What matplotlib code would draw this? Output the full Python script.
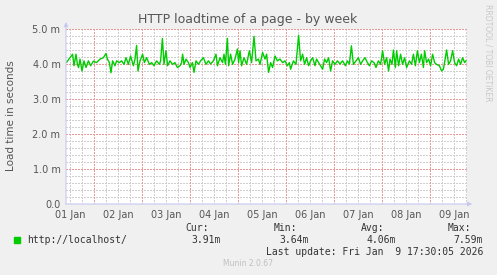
import matplotlib
matplotlib.use("Agg")
import matplotlib.pyplot as plt

# hours since 01 Jan 00:00, load time in milliseconds
hours = [
    10.3, 13.3, 14.0, 15.0, 15.7, 16.3, 17.0, 18.0, 19.0, 20.0, 21.2, 22.3, 23.7,
    25.3, 27.0, 28.7, 30.0, 30.7, 31.7, 32.5, 33.3, 34.5, 35.3, 36.7, 37.8, 39.0,
    40.0, 41.2, 42.3, 43.7, 44.5, 45.3, 46.0, 47.0, 48.3, 49.2, 50.3, 51.7, 52.8,
    54.0, 55.3, 56.7, 57.3, 58.2, 59.0, 60.0, 60.8, 62.0, 63.3, 64.5, 65.7, 67.0,
    67.8, 68.3, 69.0, 70.0, 71.2, 72.0, 73.2, 74.0, 75.0, 76.2, 77.3, 78.7, 80.0,
    81.2, 82.3, 83.7, 85.0, 85.7, 87.0, 88.3, 89.0, 89.7, 90.7, 91.3, 92.3, 93.3,
    94.5, 95.7, 96.3, 97.0, 97.8, 99.0, 100.3, 101.7,
    102.8, 104.0, 105.0, 106.2, 107.0, 108.3, 109.5, 110.3, 111.3, 112.3, 113.3,
    114.5, 115.7, 117.0, 118.3, 119.5, 120.7, 121.7, 122.3, 123.7, 125.0, 126.3,
    127.3, 128.3, 129.3, 130.3, 131.3, 132.3, 133.3, 134.5, 135.3, 136.3, 137.3,
    138.3, 139.3, 140.3, 141.3, 142.3, 143.3, 144.5, 145.7, 147.0, 148.3, 149.7,
    150.7, 151.7, 152.7, 153.7, 155.0, 156.2, 157.3, 158.3, 159.5, 160.7, 161.7,
    162.8, 164.0, 165.0, 166.2, 167.3, 168.3, 169.3, 170.3, 171.3, 172.0, 173.0,
    173.7, 174.7, 175.3, 176.3, 177.3, 178.3, 179.3, 180.3, 181.7, 182.8, 183.7,
    184.7, 185.7, 186.7, 187.7, 188.7, 189.3, 190.3, 191.3, 192.3, 193.3, 194.3,
    195.3, 196.7, 197.8, 198.7, 199.7, 200.3, 201.3, 202.3, 203.3, 204.3, 205.3,
    206.3, 207.3, 208.3, 209.3, 210.0,
]
loadtime = [
    4.05, 4.28, 3.95, 4.28, 3.99, 3.90, 4.14, 3.80, 4.09, 3.90, 4.09, 3.95, 4.08,
    4.04, 4.14, 4.18, 4.30, 4.14, 4.04, 3.75, 4.09, 3.95, 4.09, 4.04, 4.09, 3.99,
    4.18, 3.99, 4.23, 3.95, 4.14, 4.53, 3.80, 4.09, 4.28, 4.04, 4.18, 3.99, 4.04,
    3.95, 4.09, 3.99, 4.09, 4.73, 3.99, 4.38, 3.95, 4.09, 3.99, 4.04, 3.90, 3.95,
    4.04, 4.28, 3.99, 4.14, 4.04, 3.90, 4.04, 3.76, 4.09, 3.99, 4.09, 4.18, 3.99,
    4.09, 4.00, 4.09, 4.28, 3.95, 4.18, 4.04, 4.28, 3.99, 4.73, 3.95, 4.28, 3.99,
    4.14, 4.43, 4.04, 4.38, 3.95, 4.18, 3.99, 4.38,
    4.04, 4.79, 4.09, 4.14, 3.99, 4.33, 4.14, 4.28, 3.76, 4.04, 3.90, 4.23, 4.09,
    4.14, 4.04, 4.09, 3.95, 4.04, 3.85, 4.09, 3.99, 4.82, 4.09, 4.28, 3.99, 4.18,
    3.95, 4.09, 4.18, 3.95, 4.14, 4.04, 3.95, 3.85, 4.14, 4.04, 4.18, 3.80, 4.09,
    3.99, 4.09, 4.00, 4.09, 3.95, 4.09, 4.00, 4.52, 3.99, 4.09, 4.18, 3.99, 4.09,
    4.18, 4.04, 3.95, 4.09, 4.04, 3.90, 4.09, 3.99, 4.38, 3.99, 4.18, 3.80, 4.14,
    3.99, 4.40, 3.90, 4.38, 3.95, 4.28, 3.99, 4.18, 3.90, 4.09, 3.99, 4.28, 3.95,
    4.38, 4.04, 4.28, 3.90, 4.38, 4.04, 4.14, 3.95, 4.28, 4.04, 3.99, 3.95, 3.80,
    3.85, 4.18, 4.40, 3.99, 4.09, 4.38, 4.04, 3.95, 4.14, 3.99, 4.18, 4.04, 4.09,
]
day_labels = ["01 Jan", "02 Jan", "03 Jan", "04 Jan", "05 Jan",
              "06 Jan", "07 Jan", "08 Jan", "09 Jan"]
ytick_vals = [0, 1, 2, 3, 4, 5]
ytick_labels = ["0.0", "1.0 m", "2.0 m", "3.0 m", "4.0 m", "5.0 m"]

W, H = 497, 275
fig = plt.figure(figsize=(W / 100, H / 100), dpi=100, facecolor="#f0f0f0")
ax = fig.add_axes([66 / W, 1 - 204 / H, (467 - 66) / W, (204 - 29) / H])
ax.set_facecolor("white")
ax.set_xlim(10, 210.5)
ax.set_ylim(0, 5)

dot = (0, (1.4, 1.4))
g = dict(lw=0.72, ls=dot, antialiased=False)
# minor grid
for h in range(12, 211, 6):
    if h % 24:
        ax.axvline(h, color="#cfcfcf", zorder=1, **g)
for i in range(26):
    if i % 5:
        ax.axhline(i * 0.2, color="#cfcfcf", zorder=1, **g)
# major grid
for h in range(24, 211, 24):
    ax.axvline(h, color="#eb9a9a", zorder=2, **g)
for v in ytick_vals[1:]:
    ax.axhline(v, color="#eb9a9a", zorder=2, **g)

ax.plot(hours, loadtime, color="#00cc00", lw=1.0, zorder=3)

for s in ax.spines.values():
    s.set_visible(False)
ax.tick_params(length=0, labelsize=7, labelcolor="#555555", pad=4)
ax.set_xticks([12 + 24 * i for i in range(len(day_labels))])
ax.set_xticklabels(day_labels)
ax.set_yticks(ytick_vals)
ax.set_yticklabels(ytick_labels)

# axis lines with arrows
ax.annotate("", xy=(1.013, 0), xytext=(0, 0), xycoords="axes fraction",
            arrowprops=dict(arrowstyle="-|>", color="#c8c8f0", lw=0.8,
                            mutation_scale=6, shrinkA=0, shrinkB=0))
ax.annotate("", xy=(0, 1.04), xytext=(0, 0), xycoords="axes fraction",
            arrowprops=dict(arrowstyle="-|>", color="#c8c8f0", lw=0.8,
                            mutation_scale=6, shrinkA=0, shrinkB=0))

fig.text(248 / W, 1 - 19 / H, "HTTP loadtime of a page - by week",
         ha="center", va="center", fontsize=9, color="#555555")
fig.text(11 / W, 1 - 116 / H, "Load time in seconds", rotation=90,
         ha="center", va="center", fontsize=7.5, color="#555555")
fig.text(488 / W, 1 - 53 / H, "RRDTOOL / TOBI OETIKER", rotation=270,
         ha="center", va="center", fontsize=5.5, color="#c8c8c8")

mono = dict(family="DejaVu Sans Mono", fontsize=7, color="#333333", va="center")
fig.patches.append(plt.Rectangle((14 / W, 1 - 243 / H), 6 / W, 6 / H,
                                 transform=fig.transFigure, color="#00cc00"))
fig.text(27 / W, 1 - 240 / H, "http://localhost/", ha="left", **mono)
for head, val, xend in [("Cur:", "3.91m", 221), ("Min:", "3.64m", 309),
                        ("Avg:", "4.06m", 396), ("Max:", "7.59m", 483)]:
    fig.text((xend - 12) / W, 1 - 228 / H, head, ha="right", **mono)
    fig.text(xend / W, 1 - 240 / H, val, ha="right", **mono)
fig.text(483 / W, 1 - 252 / H, "Last update: Fri Jan  9 17:30:05 2026",
         ha="right", **mono)
fig.text(248 / W, 1 - 263 / H, "Munin 2.0.67", ha="center", va="center",
         fontsize=5.5, color="#c0c0c0")

fig.savefig("out.png", dpi=100, facecolor=fig.get_facecolor())
